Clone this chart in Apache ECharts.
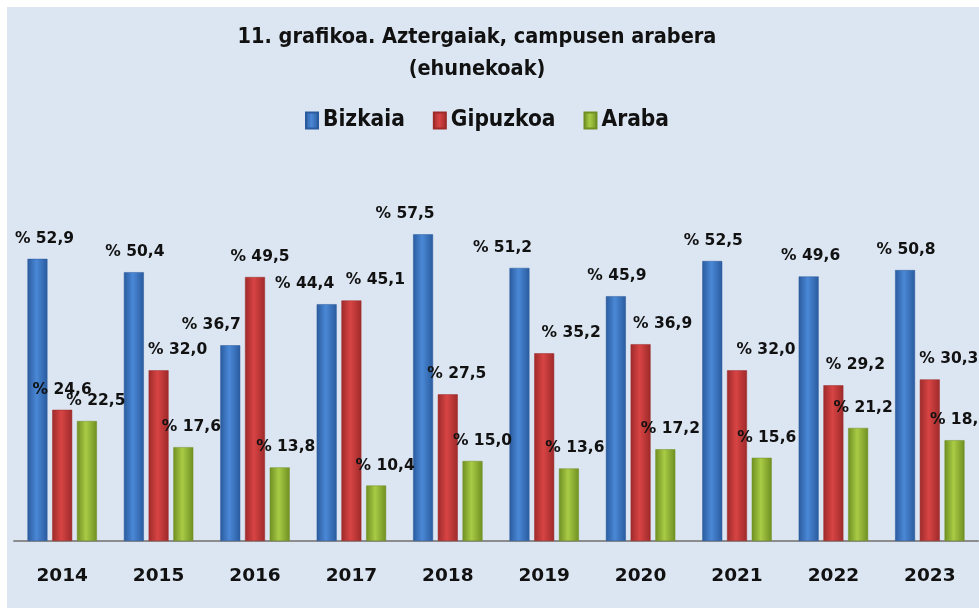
<!DOCTYPE html>
<html>
<head>
<meta charset="utf-8">
<script src="https://cdn.jsdelivr.net/npm/echarts@6/dist/echarts.min.js"></script>
<style>
  html, body { margin: 0; padding: 0; background: #ffffff; }
  #main { position: absolute; left: 7px; top: 7px; width: 972px; height: 601px; }
</style>
</head>
<body>
<div id="main"></div>
<script>
var myChart = echarts.init(document.getElementById('main'));

var years = ['2014', '2015', '2016', '2017', '2018', '2019', '2020', '2021', '2022', '2023'];
var bizkaia = [52.9, 50.4, 36.7, 44.4, 57.5, 51.2, 45.9, 52.5, 49.6, 50.8];
var gipuzkoa = [24.6, 32.0, 49.5, 45.1, 27.5, 35.2, 36.9, 32.0, 29.2, 30.3];
var araba = [22.5, 17.6, 13.8, 10.4, 15.0, 13.6, 17.2, 15.6, 21.2, 18.9];

// horizontal nudges of the value labels (the source moved some by hand)
var bizkaiaLabelDx = [7, 1, -19, -22, -18, -17, 1, 1, 2, 1];
var gipuzkoaLabelDx = [0, 19, 5, 24, 9, 27, 22, 29, 22, 19];
var arabaLabelDx = [9, 8, 6, 9, 10, 6, 5, 5, 5, 5];

var narrow = '"Liberation Sans Narrow", "DejaVu Sans Condensed", sans-serif';
var wide = '"DejaVu Sans", Verdana, sans-serif';

function barColor(dark, light) {
    return new echarts.graphic.LinearGradient(0, 0, 1, 0, [
        { offset: 0, color: dark },
        { offset: 0.45, color: light },
        { offset: 1, color: dark }
    ]);
}

function makeSeries(name, values, dx, dark, light) {
    var items = values.map(function (v, i) {
        return { value: v, label: { offset: [dx[i], 0] } };
    });
    return {
        name: name,
        type: 'bar',
        data: items,
        barGap: '24%',
        barCategoryGap: '28%',
        itemStyle: {
            color: barColor(dark, light),
            borderColor: dark,
            borderWidth: 0.5
        },
        label: {
            show: true,
            position: 'top',
            distance: 12,
            color: '#111',
            fontFamily: wide,
            fontWeight: 'bold',
            fontSize: 15.5,
            formatter: function (p) {
                return '% ' + p.value.toFixed(1).replace('.', ',');
            }
        }
    };
}

option = {
    backgroundColor: '#dce6f2',
    animation: false,
    title: {
        text: '11. grafikoa. Aztergaiak, campusen arabera\n(ehunekoak)',
        left: 465,
        top: 9,
        textAlign: 'center',
        textStyle: {
            fontFamily: narrow,
            fontWeight: 'bold',
            fontSize: 21.5,
            lineHeight: 32,
            color: '#111'
        }
    },
    legend: {
        top: 97,
        left: 293,
        itemWidth: 12,
        itemHeight: 16,
        itemGap: 28,
        icon: 'rect',
        textStyle: {
            fontFamily: narrow,
            fontWeight: 'bold',
            fontSize: 22.5,
            color: '#111'
        },
        data: ['Bizkaia', 'Gipuzkoa', 'Araba']
    },
    grid: {
        left: 7,
        right: 1,
        top: 214,
        bottom: 67,
        containLabel: false
    },
    xAxis: {
        type: 'category',
        data: years,
        axisLine: { lineStyle: { color: '#8c8c8c', width: 2 } },
        axisTick: { show: false },
        axisLabel: {
            margin: 26,
            color: '#111',
            fontFamily: wide,
            fontWeight: 'bold',
            fontSize: 18.5
        }
    },
    yAxis: {
        type: 'value',
        min: 0,
        max: 60,
        show: false
    },
    series: [
        makeSeries('Bizkaia', bizkaia, bizkaiaLabelDx, '#2a5b9e', '#4a88d6'),
        makeSeries('Gipuzkoa', gipuzkoa, gipuzkoaLabelDx, '#9e2a2a', '#d84444'),
        makeSeries('Araba', araba, arabaLabelDx, '#6f8f22', '#a9cb45')
    ]
};

myChart.setOption(option);
</script>
</body>
</html>
